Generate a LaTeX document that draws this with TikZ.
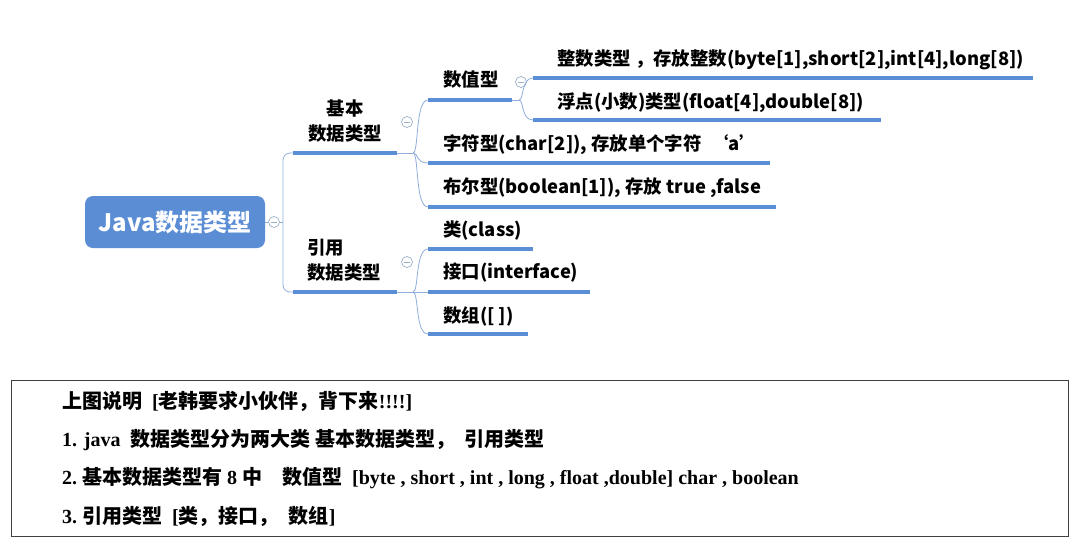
\documentclass[tikz,border=0pt]{standalone}
\usepackage{fontspec}
\setmainfont{Liberation Serif}
\newfontfamily\cjk{Noto Sans CJK SC}
\newcommand\CJ[1]{{\cjk #1}}
\definecolor{ulblue}{HTML}{5A8FD6}
\definecolor{rootblue}{HTML}{5B8DD5}
\definecolor{thinblue}{HTML}{8FAEDC}
\definecolor{knob}{HTML}{9AAFC8}
\tikzset{
  mmtext/.style={anchor=west, inner sep=0pt, font=\cjk\bfseries\fontsize{18.4}{25}\selectfont},
  uline/.style={draw=ulblue, line width=3.6pt},
  conn/.style={draw=thinblue, line width=0.8pt},
  knobc/.style={circle, draw=knob, line width=0.7pt, minimum size=11pt, inner sep=0pt, fill=white,
    path picture={\draw[knob, line width=0.7pt] ([xshift=-2.8pt]path picture bounding box.center) -- ([xshift=2.8pt]path picture bounding box.center);}},
  rootbox/.style={rounded corners=8pt, fill=rootblue, text=white, minimum width=180pt, minimum height=52pt,
    inner sep=0pt, font=\cjk\bfseries\fontsize{24}{28}\selectfont},
  note/.style={anchor=west, inner sep=0pt, font=\bfseries\fontsize{20}{24}\selectfont}
}
\begin{document}
\begin{tikzpicture}[x=1pt,y=-1pt]
\useasboundingbox (0,0) rectangle (1079,544);
\fill[white] (0,0) rectangle (1079,544);

% root
\node[rootbox] (root) at (175,222) {Java数据类型};
\node[knobc] (rk) at (274,222) {};
\coordinate (rj) at (283,222);

% level 1
\node[mmtext, align=center, anchor=center] (jb) at (345,121) {基本\\数据类型};
\node[mmtext, align=left] (yy) at (307,260.5) {引用\\数据类型};
\coordinate (jbS) at (293,153); \coordinate (jbE) at (397,153); \coordinate (jbJ) at (413,153);
\coordinate (yyS) at (293,292); \coordinate (yyE) at (397,292); \coordinate (yyJ) at (413,292);
\node[knobc] (jbk) at (407,122) {};
\node[knobc] (yyk) at (407,262) {};

% level 2 under 基本
\node[mmtext] (szx) at (443,80) {数值型};
\node[mmtext] (zf) at (443,145) {字符型(char[2]), 存放单个字符 \ ‘a’};
\node[mmtext] (be) at (443,188) {布尔型(boolean[1]), 存放 true ,false};
\coordinate (szxS) at (428,100); \coordinate (szxE) at (512,100); \coordinate (szxJ) at (519,100);
\coordinate (zfS) at (428,163); \coordinate (zfE) at (770,163);
\coordinate (beS) at (428,207); \coordinate (beE) at (776,207);
\node[knobc] (szxk) at (521,82) {};

% level 3 under 数值型
\node[mmtext] (zs) at (557,60) {整数类型 ，存放整数(byte[1],short[2],int[4],long[8])};
\node[mmtext] (fd) at (557,103) {浮点(小数)类型(float[4],double[8])};
\coordinate (zsS) at (533,78); \coordinate (zsE) at (1033,78);
\coordinate (fdS) at (533,120); \coordinate (fdE) at (881,120);

% level 2 under 引用
\node[mmtext] (lei) at (443,231) {类(class)};
\node[mmtext] (jk) at (443,273) {接口(interface)};
\node[mmtext] (sz) at (443,316) {数组([ ])};
\coordinate (leiS) at (428,249); \coordinate (leiE) at (533,249);
\coordinate (jkS) at (428,292); \coordinate (jkE) at (590,292);
\coordinate (szS) at (428,334); \coordinate (szE) at (528,334);

% thin connectors
\draw[conn] (root.east) -- (rk.west);
\draw[conn] (rk.east) -- (rj);
\draw[conn, rounded corners=7pt] (jbS) -| (rj) |- (yyS);
\draw[conn] (jbE) -- (jbJ);
\draw[conn] (yyE) -- (yyJ);
\draw[conn] (szxE) -- (szxJ);
\draw[conn] (jbJ) .. controls +(6,0) and +(-13,0) .. (szxS);
\draw[conn] (jbJ) .. controls +(6,0) and +(-13,0) .. (zfS);
\draw[conn] (jbJ) .. controls +(6,0) and +(-13,0) .. (beS);
\draw[conn] (szxJ) .. controls +(5,0) and +(-12,0) .. (zsS);
\draw[conn] (szxJ) .. controls +(5,0) and +(-12,0) .. (fdS);
\draw[conn] (yyJ) .. controls +(6,0) and +(-13,0) .. (leiS);
\draw[conn] (yyJ) -- (jkS);
\draw[conn] (yyJ) .. controls +(6,0) and +(-13,0) .. (szS);

% underlines
\draw[uline] (jbS) -- (jbE);
\draw[uline] (yyS) -- (yyE);
\draw[uline] (szxS) -- (szxE);
\draw[uline] (zfS) -- (zfE);
\draw[uline] (beS) -- (beE);
\draw[uline] (zsS) -- (zsE);
\draw[uline] (fdS) -- (fdE);
\draw[uline] (leiS) -- (leiE);
\draw[uline] (jkS) -- (jkE);
\draw[uline] (szS) -- (szE);

% note box
\node[draw=black!75, line width=1.2pt, minimum width=1057pt, minimum height=156pt, anchor=north west, inner sep=0pt] (box) at (11,380) {};
\node[note] (l1) at (62,401) {\CJ{上图说明}\ \ [\CJ{老韩要求小伙伴，背下来}!!!!]};
\node[note] (l2) at (62,440) {1. java\ \ \CJ{数据类型分为两大类 基本数据类型，\ \ 引用类型}};
\node[note] (l3) at (62,478) {2.\ \CJ{基本数据类型有} 8 \CJ{中}\ \ \ \ \CJ{数值型}\ \ [byte , short , int , long , float ,double] char , boolean};
\node[note] (l4) at (62,516) {3.\ \CJ{引用类型}\ \ [\CJ{类，接口，}\ \ \CJ{数组}]};
\end{tikzpicture}
\end{document}
